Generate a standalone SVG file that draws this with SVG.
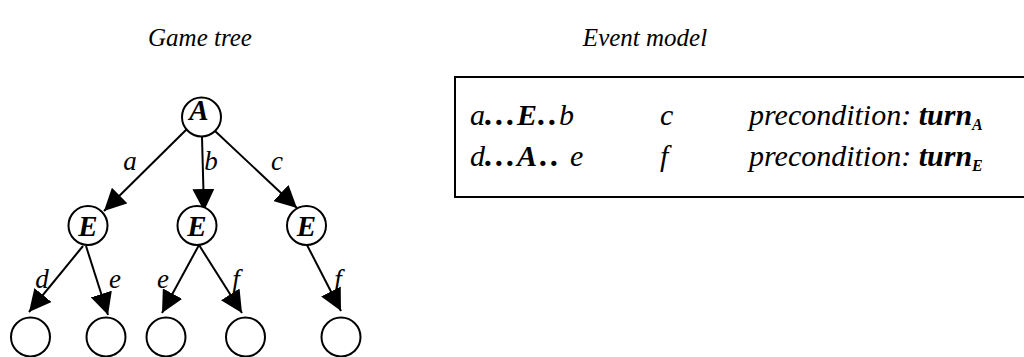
<svg xmlns="http://www.w3.org/2000/svg" width="1024" height="357" viewBox="0 0 1024 357">
<defs>
<marker id="arr" viewBox="0 0 10 10" refX="10" refY="5" markerWidth="22" markerHeight="22" markerUnits="userSpaceOnUse" orient="auto">
<path d="M0,0 L10,5 L0,10 z" fill="#000"/>
</marker>
<style>
text{font-family:'Liberation Serif','Times New Roman',serif;font-style:italic;fill:#000}
.t{font-size:25px}
.l{font-size:27px}
.k{font-size:29px;font-weight:bold}
.m{font-size:30px}
.b{font-weight:bold}
.d{font-weight:bold;font-size:32px;letter-spacing:3px}
.s{font-weight:bold;font-size:16px}
.n{fill:#fff;stroke:#000;stroke-width:2}
.e{stroke:#000;stroke-width:2;fill:none;marker-end:url(#arr)}
</style>
</defs>
<rect width="1024" height="357" fill="#fff"/>
<text class="t" x="200" y="46" text-anchor="middle">Game tree</text>
<text class="t" x="645" y="46" text-anchor="middle">Event model</text>
<g id="connectors">
<line class="e" x1="188" y1="128" x2="104" y2="211"/>
<line class="e" x1="202" y1="137" x2="204" y2="211"/>
<line class="e" x1="215" y1="131" x2="297" y2="208"/>
<line class="e" x1="83" y1="246" x2="29" y2="312"/>
<line class="e" x1="86" y1="246" x2="108" y2="315"/>
<line class="e" x1="199" y1="245" x2="162" y2="313"/>
<line class="e" x1="199" y1="245" x2="242" y2="313"/>
<line class="e" x1="307" y1="245" x2="341" y2="311"/>
</g>
<g id="labels">
<text class="l" x="130" y="170" text-anchor="middle">a</text>
<text class="l" x="211" y="170" text-anchor="middle">b</text>
<text class="l" x="277" y="170" text-anchor="middle">c</text>
<text class="l" x="42" y="288" text-anchor="middle">d</text>
<text class="l" x="115" y="288" text-anchor="middle">e</text>
<text class="l" x="163" y="288" text-anchor="middle">e</text>
<text class="l" x="236" y="288" text-anchor="middle">f</text>
<text class="l" x="338" y="288" text-anchor="middle">f</text>
</g>
<g id="node-A"><circle class="n" cx="201.5" cy="117" r="19.5"/><text class="k" x="199" y="120" text-anchor="middle">A</text></g>
<g id="node-E1"><circle class="n" cx="88" cy="225.5" r="19.5"/><text class="k" x="88" y="236" text-anchor="middle">E</text></g>
<g id="node-E2"><circle class="n" cx="197" cy="225.5" r="19.5"/><text class="k" x="197" y="236" text-anchor="middle">E</text></g>
<g id="node-E3"><circle class="n" cx="306.5" cy="225.5" r="19.5"/><text class="k" x="306.5" y="236" text-anchor="middle">E</text></g>
<g id="leaf-1"><circle class="n" cx="30.5" cy="337" r="19.5"/></g>
<g id="leaf-2"><circle class="n" cx="106" cy="337" r="19.5"/></g>
<g id="leaf-3"><circle class="n" cx="166" cy="337" r="19.5"/></g>
<g id="leaf-4"><circle class="n" cx="245.5" cy="337" r="19.5"/></g>
<g id="leaf-5"><circle class="n" cx="341" cy="337" r="19.5"/></g>
<g id="event-model">
<rect x="455" y="77" width="580" height="120" fill="none" stroke="#000" stroke-width="2"/>
<text class="m" x="470" y="125">a<tspan class="d" x="485">...</tspan><tspan class="b" x="517">E</tspan><tspan class="d" x="538">..</tspan><tspan x="559">b</tspan></text>
<text class="m" x="660" y="125">c</text>
<text class="m" x="749" y="125">precondition: <tspan class="b">turn</tspan><tspan class="s" dy="5">A</tspan></text>
<text class="m" x="470" y="166">d<tspan class="d" x="485">...</tspan><tspan class="b" x="517">A</tspan><tspan class="d" x="540">..</tspan><tspan x="570">e</tspan></text>
<text class="m" x="660" y="166">f</text>
<text class="m" x="749" y="166">precondition: <tspan class="b">turn</tspan><tspan class="s" dy="5">E</tspan></text>
</g>
</svg>
